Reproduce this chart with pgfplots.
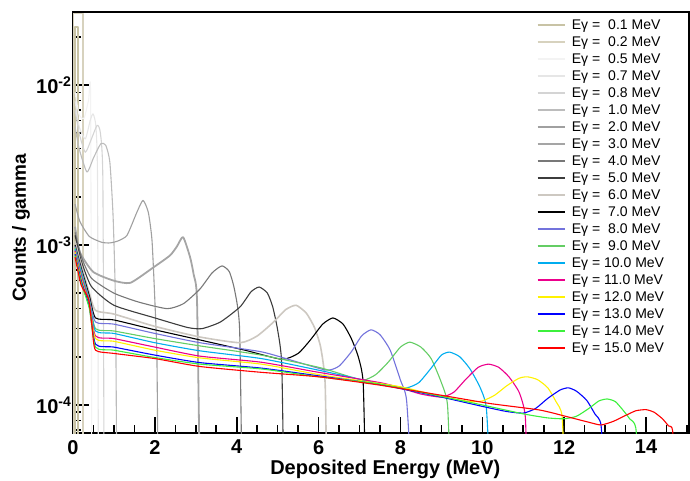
\documentclass[border=0pt]{standalone}
\usepackage{fontspec}
\setmainfont{Liberation Sans}
\usepackage{pgfplots}
\pgfplotsset{compat=1.18}

\definecolor{cA}{RGB}{200,195,165}
\definecolor{cB}{RGB}{215,210,190}
\definecolor{cC}{RGB}{243,243,243}
\definecolor{cD}{RGB}{230,230,230}
\definecolor{cE}{RGB}{212,212,212}
\definecolor{cF}{RGB}{188,188,188}
\definecolor{cG}{RGB}{160,160,160}
\definecolor{cH}{RGB}{165,165,165}
\definecolor{cI}{RGB}{120,120,120}
\definecolor{cJ}{RGB}{60,60,60}
\definecolor{cK}{RGB}{205,200,193}
\definecolor{cM}{RGB}{115,115,220}
\definecolor{cN}{RGB}{100,205,100}
\definecolor{cS}{RGB}{60,240,60}

\newcommand{\dsp}{\hspace{4pt}}

\begin{document}
\begin{tikzpicture}
\begin{axis}[
  width=308pt, height=210.5pt, scale only axis,
  ymode=log,
  xmin=0, xmax=15.05, ymin=6.68e-5, ymax=2.86e-2,
  axis line style={line width=1pt},
  xtick pos=bottom, ytick pos=left,
  xtick={0,2,4,6,8,10,12,14},
  xticklabels={0,2,4,6,8,10,12,14},
  minor xtick={0.5,1,1.5,2.5,3,3.5,4.5,5,5.5,6.5,7,7.5,8.5,9,9.5,10.5,11,11.5,12.5,13,13.5,14.5,15},
  ytick={1e-4,1e-3,1e-2},
  yticklabels={10\textsuperscript{-4},10\textsuperscript{-3},10\textsuperscript{-2}},
  minor ytick={7e-5,8e-5,9e-5,2e-4,3e-4,4e-4,5e-4,6e-4,7e-4,8e-4,9e-4,2e-3,3e-3,4e-3,5e-3,6e-3,7e-3,8e-3,9e-3,2e-2},
  tick align=inside,
  major tick length=8pt, minor tick length=4pt,
  tick style={draw=black, line width=0.8pt},
  ticklabel style={font=\fontsize{10}{12}\selectfont\bfseries},
  yticklabel style={xshift=3pt},
  xlabel={Deposited Energy (MeV)},
  ylabel={Counts / gamma},
  xlabel style={font=\fontsize{10}{12}\selectfont\bfseries, at={(axis description cs:0.507,0)}, anchor=north, yshift=-10pt},
  ylabel style={font=\fontsize{9.5}{11}\selectfont\bfseries, at={(axis description cs:0,0.487)}, anchor=south, yshift=18pt},
  legend cell align=left,
  legend style={draw=none, fill=none, at={(axis description cs:0.752,0.99)}, anchor=north west,
    font=\fontsize{7}{8}\selectfont, inner sep=0pt, column sep=2.5pt,
    nodes={inner sep=0.7pt, text height=5.6pt, text depth=1.5pt}},
  legend image code/.code={\draw[#1, line width=0.9pt] (0pt,0pt) -- (13.5pt,0pt);},
  every axis plot/.append style={line width=0.55pt, line join=round},
]
% 0.1 MeV
\addplot[cA, line width=1pt, sharp plot] coordinates {(0.05,3e-5)(0.05,2.3e-2)(0.12,2.3e-2)(0.12,3e-5)};
\addlegendentry{Eγ =\dsp0.1 MeV}
% 0.2 MeV
\addplot[cB, line width=0.9pt, sharp plot] coordinates {(0.01,3e-5)(0.01,2.8e-2)(0.24,2.8e-2)(0.24,3e-5)};
\addlegendentry{Eγ =\dsp0.2 MeV}
% 0.5 MeV
\addplot[cC, smooth, tension=0.35] coordinates {(0.05,9e-3)(0.15,6.5e-3)(0.27,6.2e-3)(0.38,8.0e-3)(0.43,8.3e-3)(0.46,3e-5)};
\addlegendentry{Eγ =\dsp0.5 MeV}
% 0.7 MeV
\addplot[cD, smooth, tension=0.35] coordinates {(0.05,8e-3)(0.15,5.5e-3)(0.3,4.6e-3)(0.42,6.0e-3)(0.49,6.6e-3)(0.56,5.5e-3)(0.6,2.5e-3)(0.62,3e-5)};
\addlegendentry{Eγ =\dsp0.7 MeV}
% 0.8 MeV
\addplot[cE, smooth, tension=0.35] coordinates {(0.05,7e-3)(0.15,5e-3)(0.3,3.8e-3)(0.45,4.6e-3)(0.59,5.6e-3)(0.67,5.0e-3)(0.73,2.5e-3)(0.76,3e-5)};
\addlegendentry{Eγ =\dsp0.8 MeV}
% 1.0 MeV
\addplot[cF, smooth, tension=0.35] coordinates {(0.05,5.5e-3)(0.15,4.0e-3)(0.34,2.86e-3)(0.5,3.5e-3)(0.68,4.3e-3)(0.8,4.2e-3)(0.9,3.3e-3)(0.98,1.5e-3)(1.04,4e-4)(1.07,3e-5)};
\addlegendentry{Eγ =\dsp1.0 MeV}
% 2.0 MeV
\addplot[cG, smooth, tension=0.35] coordinates {(0.05,1.8e-3)(0.17,1.4e-3)(0.4,1.13e-3)(0.7,1.04e-3)(0.9,1.03e-3)(1.1,1.06e-3)(1.32,1.15e-3)(1.56,1.6e-3)(1.71,1.9e-3)(1.84,1.6e-3)(1.93,1.07e-3)(2.0,4.5e-4)(2.05,2e-4)(2.08,3e-5)};
\addlegendentry{Eγ =\dsp2.0 MeV}
% 3.0 MeV
\addplot[cH, line width=0.9pt, smooth, tension=0.35] coordinates {(0.05,1.3e-3)(0.17,9e-4)(0.49,6.8e-4)(0.98,6.0e-4)(1.4,5.8e-4)(1.95,7.2e-4)(2.37,8.6e-4)(2.54,9.8e-4)(2.69,1.12e-3)(2.86,8.4e-4)(2.95,6.5e-4)(3.03,4.5e-4)(3.1,3e-5)};
\addlegendentry{Eγ =\dsp3.0 MeV}
% 4.0 MeV
\addplot[cI, smooth, tension=0.35] coordinates {(0.05,1.2e-3)(0.2,8.5e-4)(0.45,6.2e-4)(1.0,5.0e-4)(1.6,4.4e-4)(2.3,4.0e-4)(2.7,4.3e-4)(3.1,5.3e-4)(3.4,6.7e-4)(3.64,7.4e-4)(3.82,6.8e-4)(3.95,5.2e-4)(4.07,3.0e-4)(4.13,3e-5)};
\addlegendentry{Eγ =\dsp4.0 MeV}
% 5.0 MeV
\addplot[cJ, smooth, tension=0.35] coordinates {(0.05,1.15e-3)(0.2,8.0e-4)(0.45,5.5e-4)(1.0,4.2e-4)(2.0,3.5e-4)(2.8,3.05e-4)(3.15,3.0e-4)(3.6,3.3e-4)(4.08,4.1e-4)(4.35,5.1e-4)(4.55,5.46e-4)(4.75,5.0e-4)(4.88,4.1e-4)(5.0,2.94e-4)(5.1,1.8e-4)(5.15,3e-5)};
\addlegendentry{Eγ =\dsp5.0 MeV}
% 6.0 MeV
\addplot[cK, line width=0.8pt, smooth, tension=0.35] coordinates {(0.05,1.05e-3)(0.2,7.5e-4)(0.4,5.0e-4)(0.55,3.9e-4)(1.0,3.7e-4)(2.0,3.1e-4)(3.1,2.66e-4)(4.08,2.45e-4)(4.5,2.7e-4)(4.9,3.3e-4)(5.2,3.95e-4)(5.45,4.2e-4)(5.7,3.75e-4)(5.9,3.05e-4)(6.05,2.3e-4)(6.16,1.37e-4)(6.2,3e-5)};
\addlegendentry{Eγ =\dsp6.0 MeV}
% 7.0 MeV
\addplot[black, smooth, tension=0.35] coordinates {(0.05,1.0e-3)(0.2,7.2e-4)(0.4,4.8e-4)(0.55,3.5e-4)(1.0,3.4e-4)(2.0,2.95e-4)(3.1,2.55e-4)(4.2,2.2e-4)(5.1,1.93e-4)(5.5,2.1e-4)(5.8,2.55e-4)(6.1,3.2e-4)(6.35,3.5e-4)(6.6,3.2e-4)(6.8,2.6e-4)(6.97,2.0e-4)(7.09,1.37e-4)(7.15,3e-5)};
\addlegendentry{Eγ =\dsp7.0 MeV}
% 8.0 MeV
\addplot[cM, smooth, tension=0.35] coordinates {(0.05,9.8e-4)(0.2,7.0e-4)(0.4,4.6e-4)(0.55,3.3e-4)(1.0,3.2e-4)(2.0,2.8e-4)(3.1,2.45e-4)(4.6,2.15e-4)(5.5,1.85e-4)(6.2,1.65e-4)(6.5,1.75e-4)(6.8,2.15e-4)(7.05,2.7e-4)(7.28,2.95e-4)(7.5,2.75e-4)(7.75,2.2e-4)(8.0,1.43e-4)(8.15,1.07e-4)(8.28,3e-5)};
\addlegendentry{Eγ =\dsp8.0 MeV}
% 9.0 MeV
\addplot[cN, smooth, tension=0.35] coordinates {(0.05,9.6e-4)(0.2,6.8e-4)(0.4,4.5e-4)(0.55,3.0e-4)(1.0,2.9e-4)(2.0,2.6e-4)(3.1,2.34e-4)(4.6,2.05e-4)(6.0,1.72e-4)(6.7,1.52e-4)(7.1,1.43e-4)(7.4,1.55e-4)(7.7,1.85e-4)(8.0,2.3e-4)(8.23,2.47e-4)(8.5,2.3e-4)(8.75,1.95e-4)(9.0,1.38e-4)(9.15,1.0e-4)(9.23,3e-5)};
\addlegendentry{Eγ =\dsp9.0 MeV}
% 10.0 MeV
\addplot[cyan, smooth, tension=0.35] coordinates {(0.05,9.4e-4)(0.2,6.6e-4)(0.4,4.4e-4)(0.55,2.9e-4)(1.0,2.8e-4)(2.0,2.45e-4)(3.1,2.18e-4)(4.6,1.95e-4)(6.0,1.65e-4)(7.0,1.45e-4)(7.7,1.32e-4)(8.15,1.28e-4)(8.45,1.38e-4)(8.75,1.7e-4)(9.0,2.05e-4)(9.2,2.14e-4)(9.45,2.0e-4)(9.7,1.68e-4)(9.95,1.28e-4)(10.1,9.5e-5)(10.2,3e-5)};
\addlegendentry{Eγ = 10.0 MeV}
% 11.0 MeV
\addplot[magenta, smooth, tension=0.35] coordinates {(0.05,9.2e-4)(0.2,6.4e-4)(0.4,4.3e-4)(0.55,2.7e-4)(1.0,2.6e-4)(2.0,2.3e-4)(3.1,2.02e-4)(4.6,1.85e-4)(6.0,1.6e-4)(7.5,1.38e-4)(8.0,1.28e-4)(8.5,1.17e-4)(9.0,1.12e-4)(9.3,1.2e-4)(9.6,1.45e-4)(9.9,1.72e-4)(10.15,1.8e-4)(10.4,1.72e-4)(10.65,1.5e-4)(10.9,1.2e-4)(11.05,8.5e-5)(11.1,3e-5)};
\addlegendentry{Eγ = 11.0 MeV}
% 12.0 MeV
\addplot[yellow, smooth, tension=0.35] coordinates {(0.05,9.0e-4)(0.2,6.2e-4)(0.4,4.2e-4)(0.55,2.6e-4)(1.0,2.5e-4)(2.0,2.2e-4)(3.1,1.97e-4)(4.6,1.8e-4)(6.0,1.55e-4)(7.0,1.42e-4)(8.0,1.3e-4)(9.0,1.13e-4)(9.7,1.05e-4)(10.0,1.06e-4)(10.3,1.15e-4)(10.6,1.32e-4)(10.9,1.47e-4)(11.1,1.5e-4)(11.35,1.44e-4)(11.6,1.28e-4)(11.8,1.05e-4)(11.95,8.5e-5)(12.02,3e-5)};
\addlegendentry{Eγ = 12.0 MeV}
% 13.0 MeV
\addplot[blue, smooth, tension=0.35] coordinates {(0.05,8.8e-4)(0.2,6.0e-4)(0.4,4.1e-4)(0.55,2.4e-4)(1.0,2.3e-4)(2.0,2.05e-4)(3.1,1.84e-4)(4.6,1.7e-4)(6.0,1.52e-4)(7.5,1.34e-4)(9.0,1.12e-4)(10.0,9.8e-5)(10.6,9.1e-5)(11.0,8.9e-5)(11.3,9.5e-5)(11.6,1.1e-4)(11.9,1.24e-4)(12.1,1.28e-4)(12.3,1.22e-4)(12.55,1.07e-4)(12.75,8.8e-5)(12.9,7.5e-5)(13.0,3e-5)};
\addlegendentry{Eγ = 13.0 MeV}
% 14.0 MeV
\addplot[cS, smooth, tension=0.35] coordinates {(0.05,8.6e-4)(0.2,5.8e-4)(0.4,4.0e-4)(0.55,2.3e-4)(1.0,2.2e-4)(2.0,1.98e-4)(3.1,1.8e-4)(4.6,1.68e-4)(6.0,1.5e-4)(7.5,1.35e-4)(9.0,1.13e-4)(10.0,1.0e-4)(11.0,8.8e-5)(11.6,8.3e-5)(12.0,8.2e-5)(12.3,8.5e-5)(12.6,9.5e-5)(12.85,1.06e-4)(13.05,1.09e-4)(13.25,1.05e-4)(13.45,9.2e-5)(13.6,8.2e-5)(13.75,7.2e-5)(13.85,3e-5)};
\addlegendentry{Eγ = 14.0 MeV}
% 15.0 MeV
\addplot[red, smooth, tension=0.35] coordinates {(0.05,8.4e-4)(0.2,5.6e-4)(0.38,4.6e-4)(0.47,3.0e-4)(0.55,2.2e-4)(1.0,2.1e-4)(2.0,1.95e-4)(3.1,1.74e-4)(4.6,1.6e-4)(6.0,1.5e-4)(7.5,1.33e-4)(9.0,1.15e-4)(10.2,1.02e-4)(11.4,9.3e-5)(12.07,8.45e-5)(12.6,7.8e-5)(12.9,7.5e-5)(13.2,7.9e-5)(13.5,8.6e-5)(13.75,9.2e-5)(14.0,9.35e-5)(14.2,9.0e-5)(14.4,8.2e-5)(14.55,7.4e-5)(14.65,6.9e-5)(14.72,3e-5)};
\addlegendentry{Eγ = 15.0 MeV}
\end{axis}
\pgfresetboundingbox
\path ([xshift=-36.5pt,yshift=-24pt]current axis.south west) rectangle ([xshift=0.5pt,yshift=6pt]current axis.north east);
\end{tikzpicture}
\end{document}
